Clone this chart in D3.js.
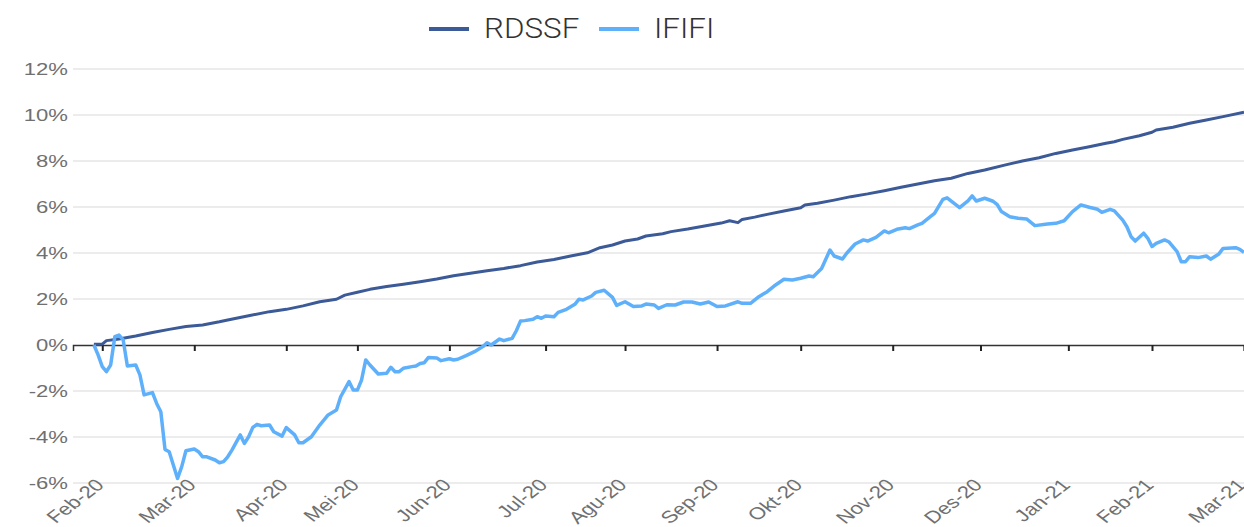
<html lang="en">
<head>
<meta charset="utf-8">
<title>RDSSF vs IFIFI</title>
<script src="https://cdn.jsdelivr.net/npm/d3@7"></script>
<style>
  body { margin: 0; background: #fff; }
  .grid line { stroke: #e6e6e6; stroke-width: 1.5px; }
  .ylab, .xlab { font-family: "Liberation Sans", Arial, sans-serif; font-size: 17px; fill: #707070; }
  .legend text { font-family: Roboto, "Open Sans", sans-serif; font-weight: 300; font-size: 28px; fill: #333; }
</style>
</head>
<body>
<script>
// trading-day index on the x axis, month labels at the first trading day of each month
var months = ["Feb-20", "Mar-20", "Apr-20", "Mei-20", "Jun-20", "Jul-20", "Agu-20",
              "Sep-20", "Okt-20", "Nov-20", "Des-20", "Jan-21", "Feb-21", "Mar-21"];
var monthDay = [7, 29, 51, 68, 90, 113, 132, 154, 174, 196, 217, 238, 258, 280];

var yTicks = [-6, -4, -2, 0, 2, 4, 6, 8, 10, 12];

// cumulative return, %
var rdssfDay = [5, 7, 8, 11, 15, 19, 23, 27, 31, 35, 37, 42, 47, 51, 55, 59, 63, 65, 68, 71,
                75, 79, 83, 87, 91, 95, 99, 103, 107, 111, 115, 119, 123, 126, 129, 132, 135, 137,
                141, 143, 147, 151, 155, 157, 159, 160, 163, 166, 170, 174, 175, 178, 182, 186,
                190, 194, 198, 202, 206, 210, 214, 218, 223, 227, 231, 235, 239, 243, 247, 249,
                251, 255, 258, 259, 263, 267, 271, 275, 280];
var rdssf = [0.03, 0.04, 0.19, 0.26, 0.39, 0.54, 0.68, 0.80, 0.87, 1.01, 1.09, 1.27, 1.45, 1.55,
             1.70, 1.88, 1.99, 2.17, 2.29, 2.42, 2.54, 2.64, 2.75, 2.87, 3.01, 3.12, 3.23, 3.33,
             3.45, 3.61, 3.72, 3.87, 4.01, 4.23, 4.35, 4.52, 4.61, 4.74, 4.84, 4.93, 5.04, 5.17,
             5.30, 5.40, 5.32, 5.46, 5.56, 5.68, 5.83, 5.97, 6.09, 6.16, 6.30, 6.45, 6.57, 6.71,
             6.86, 7.00, 7.14, 7.25, 7.46, 7.61, 7.83, 8.00, 8.14, 8.33, 8.48, 8.62, 8.77, 8.84,
             8.94, 9.10, 9.25, 9.35, 9.47, 9.64, 9.78, 9.93, 10.12];

var ififiDay = [5, 6, 7, 8, 9, 10, 11, 12, 13, 15, 16, 17, 19, 20, 21, 22, 23, 25, 26, 27, 29,
                30, 31, 32, 34, 35, 36, 37, 38, 40, 41, 42, 43, 44, 45, 47, 48, 50, 51, 53, 54,
                55, 57, 59, 61, 63, 64, 66, 67, 68, 69, 70, 71, 73, 75, 76, 77, 78, 79, 81, 82,
                83, 84, 85, 87, 88, 90, 91, 92, 94, 96, 98, 99, 100, 102, 103, 105, 106, 107,
                108, 110, 111, 112, 113, 115, 116, 118, 120, 121, 122, 124, 125, 127, 129, 130,
                132, 134, 136, 137, 139, 140, 142, 144, 146, 148, 150, 152, 154, 156, 159, 160,
                162, 164, 166, 168, 170, 172, 174, 176, 177, 179, 181, 182, 184, 185, 187, 189,
                190, 192, 194, 195, 197, 199, 200, 202, 203, 205, 206, 208, 209, 212, 214, 215,
                216, 218, 220, 221, 222, 224, 226, 228, 230, 233, 235, 237, 239, 241, 243, 245,
                246, 248, 249, 251, 252, 253, 254, 256, 257, 258, 259, 261, 262, 264, 265, 266,
                267, 269, 271, 272, 274, 275, 278, 279, 280];
var ififi = [0.00, -0.43, -0.94, -1.16, -0.87, 0.36, 0.43, 0.22, -0.91, -0.87, -1.30, -2.17,
             -2.07, -2.54, -2.90, -4.54, -4.64, -5.80, -5.29, -4.60, -4.52, -4.64, -4.86, -4.86,
             -5.00, -5.12, -5.07, -4.86, -4.57, -3.91, -4.28, -3.99, -3.58, -3.45, -3.51, -3.48,
             -3.77, -3.96, -3.59, -3.91, -4.25, -4.25, -3.99, -3.48, -3.04, -2.83, -2.25, -1.59,
             -1.96, -1.96, -1.52, -0.65, -0.87, -1.26, -1.23, -0.97, -1.16, -1.16, -1.01, -0.94,
             -0.91, -0.80, -0.77, -0.54, -0.57, -0.68, -0.60, -0.65, -0.62, -0.46, -0.29, -0.07,
             0.10, 0.00, 0.26, 0.19, 0.29, 0.62, 1.04, 1.06, 1.12, 1.23, 1.16, 1.26, 1.23, 1.42,
             1.55, 1.77, 1.99, 1.96, 2.13, 2.29, 2.38, 2.07, 1.72, 1.88, 1.67, 1.70, 1.78, 1.74,
             1.59, 1.75, 1.74, 1.87, 1.87, 1.78, 1.87, 1.67, 1.70, 1.88, 1.81, 1.81, 2.10, 2.32,
             2.61, 2.86, 2.83, 2.90, 3.00, 2.97, 3.33, 4.13, 3.87, 3.74, 3.99, 4.39, 4.57, 4.52,
             4.68, 4.96, 4.88, 5.03, 5.10, 5.06, 5.22, 5.29, 5.58, 5.72, 6.33, 6.40, 5.97, 6.27,
             6.48, 6.26, 6.38, 6.25, 6.10, 5.80, 5.58, 5.51, 5.48, 5.19, 5.26, 5.29, 5.40, 5.80,
             6.09, 5.99, 5.90, 5.77, 5.90, 5.83, 5.43, 5.14, 4.71, 4.52, 4.86, 4.64, 4.28, 4.42,
             4.57, 4.49, 4.06, 3.62, 3.62, 3.84, 3.80, 3.87, 3.73, 3.96, 4.20, 4.23, 4.16, 4.03];

var W = 1244, H = 527;
var x = d3.scaleLinear().domain([0, 280]).range([73, 1244]);
var y = d3.scaleLinear().domain([-6, 12]).range([483, 69]);

var svg = d3.select("body").append("svg").attr("width", W).attr("height", H);

// gridlines
svg.append("g").attr("class", "grid")
  .selectAll("line").data(yTicks.filter(function(d) { return d !== 0; }))
  .enter().append("line")
  .attr("x1", x.range()[0]).attr("x2", x.range()[1])
  .attr("y1", function(d) { return y(d); }).attr("y2", function(d) { return y(d); });

// y labels (stretched like the source)
svg.append("g").selectAll("text").data(yTicks).enter().append("text")
  .attr("class", "ylab")
  .attr("text-anchor", "end")
  .attr("dy", "0.35em")
  .attr("transform", function(d) { return "translate(68," + y(d) + ") scale(1.3,1)"; })
  .text(function(d) { return d + "%"; });

// zero axis with month ticks
var xAxis = d3.axisBottom(x).tickValues(monthDay).tickSize(6).tickFormat("");
svg.append("g")
  .attr("transform", "translate(0," + y(0) + ")")
  .call(xAxis)
  .call(function(g) {
    g.select(".domain").attr("stroke", "#333").attr("stroke-width", 1.5);
    g.selectAll(".tick line").attr("stroke", "#222").attr("stroke-width", 2);
  });

svg.append("g").selectAll("text").data(monthDay).enter().append("text")
  .attr("class", "xlab")
  .attr("text-anchor", "end")
  .attr("transform", function(d) { return "translate(" + (x(d) + 3) + ",486) scale(1.3,1) rotate(-45)"; })
  .text(function(d, i) { return months[i]; });

var line = d3.line()
  .x(function(d) { return x(d[0]); })
  .y(function(d) { return y(d[1]); });

svg.append("path")
  .datum(d3.zip(rdssfDay, rdssf))
  .attr("fill", "none").attr("stroke", "#3b5a97").attr("stroke-width", 3)
  .attr("stroke-linejoin", "round")
  .attr("d", line);

svg.append("path")
  .datum(d3.zip(ififiDay, ififi))
  .attr("fill", "none").attr("stroke", "#5fb0fb").attr("stroke-width", 3.5)
  .attr("stroke-linejoin", "round")
  .attr("d", line);

// legend
var legend = svg.append("g").attr("class", "legend");
var items = [{name: "RDSSF", color: "#3b5a97", x: 429}, {name: "IFIFI", color: "#5fb0fb", x: 599}];
items.forEach(function(it) {
  legend.append("line")
    .attr("x1", it.x).attr("x2", it.x + 40).attr("y1", 29).attr("y2", 29)
    .attr("stroke", it.color).attr("stroke-width", 4);
  legend.append("text")
    .attr("transform", "translate(" + (it.x + 55) + ",38) scale(1.12,1)")
    .text(it.name);
});
</script>
</body>
</html>
